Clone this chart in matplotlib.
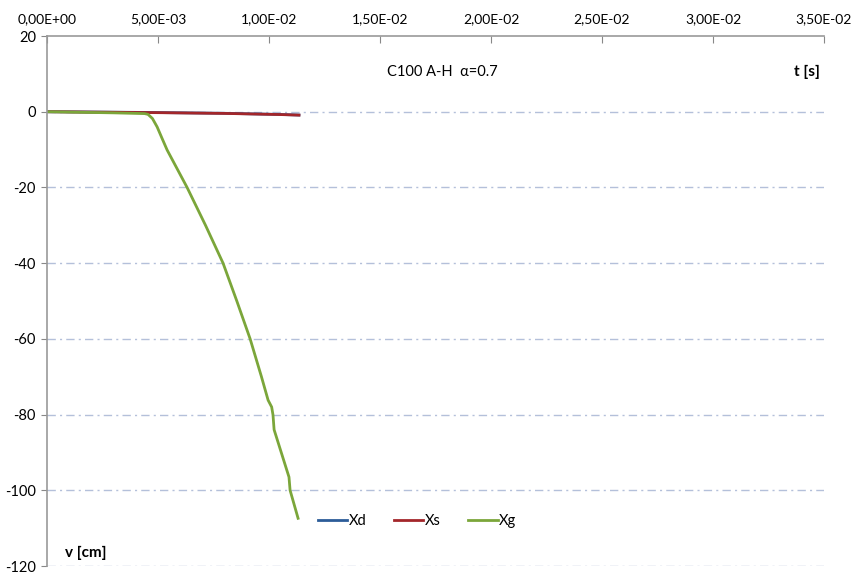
import matplotlib.pyplot as plt
from matplotlib.ticker import FuncFormatter, MultipleLocator

plt.rcParams['font.family'] = ['Lato', 'DejaVu Sans']

# time [s] and displacement [cm]
t_d = [0.0, 0.002, 0.005, 0.008, 0.0105, 0.01135]
xd = [0.0, -0.08, -0.22, -0.42, -0.72, -0.88]

t_s = [0.0, 0.002, 0.005, 0.008, 0.0105, 0.01135]
xs = [0.0, -0.1, -0.25, -0.45, -0.75, -0.9]

t_g = [0.0, 0.0030, 0.00440, 0.00455, 0.00475, 0.00496, 0.00518, 0.00541,
       0.00631, 0.00714, 0.00793, 0.00855, 0.00915, 0.00966, 0.00996,
       0.01012, 0.01018, 0.01023, 0.0109, 0.01095, 0.01131]
xg = [0.0, -0.3, -0.5, -0.7, -1.8, -4.0, -7.0, -10.1,
      -20.0, -30.0, -40.0, -50.0, -60.0, -70.0, -76.2,
      -78.0, -80.1, -84.0, -96.5, -100.0, -107.4]

fig = plt.figure(figsize=(8.52, 5.73), dpi=100)
ax = fig.add_axes([47 / 852, 1 - 566 / 573, 777 / 852, 530 / 573])

ax.plot(t_d, xd, color='#2c5c98', lw=2.0, label='Xd')
ax.plot(t_s, xs, color='#a3262a', lw=2.0, label='Xs')
ax.plot(t_g, xg, color='#7ba63a', lw=2.0, label='Xg')

ax.set_xlim(0, 0.035)
ax.set_ylim(-120, 20)
ax.xaxis.set_major_locator(MultipleLocator(0.005))
ax.yaxis.set_major_locator(MultipleLocator(20))
ax.xaxis.set_major_formatter(FuncFormatter(lambda v, p: f'{v:.2E}'.replace('.', ',')))
ax.yaxis.set_major_formatter(FuncFormatter(lambda v, p: f'{v:.0f}'))

ax.xaxis.tick_top()
ax.tick_params(axis='x', direction='in', length=5, color='#888888',
               labelsize=10, pad=8)
ax.tick_params(axis='y', direction='out', length=4, color='#888888',
               labelsize=10.5, pad=4)

for s in ['right', 'bottom']:
    ax.spines[s].set_visible(False)
for s in ['top', 'left']:
    ax.spines[s].set_color('#999999')
    ax.spines[s].set_linewidth(1.2)

# horizontal dash-dot grid below the top spine
for yv in range(0, -121, -20):
    ax.axhline(yv, color='#b4c0da', lw=1.0, ls=(0, (6, 3, 1.5, 3)), zorder=0)

ax.text(0.0153, 10.5, 'C100 A-H  \u03b1=0.7', fontsize=10.5, ha='left', va='center')
ax.text(0.0348, 10.5, 't [s]', fontsize=11, fontweight='bold', ha='right', va='center')
ax.text(0.0008, -116.5, 'v [cm]', fontsize=11, fontweight='bold', ha='left', va='center')

ax.legend(loc='center left', bbox_to_anchor=(0.349, 0.085), ncol=3, frameon=False,
          fontsize=10.5, handlelength=2.0, handletextpad=0.1, columnspacing=1.9,
          borderpad=0, borderaxespad=0)

fig.savefig('out.png', dpi=100)
